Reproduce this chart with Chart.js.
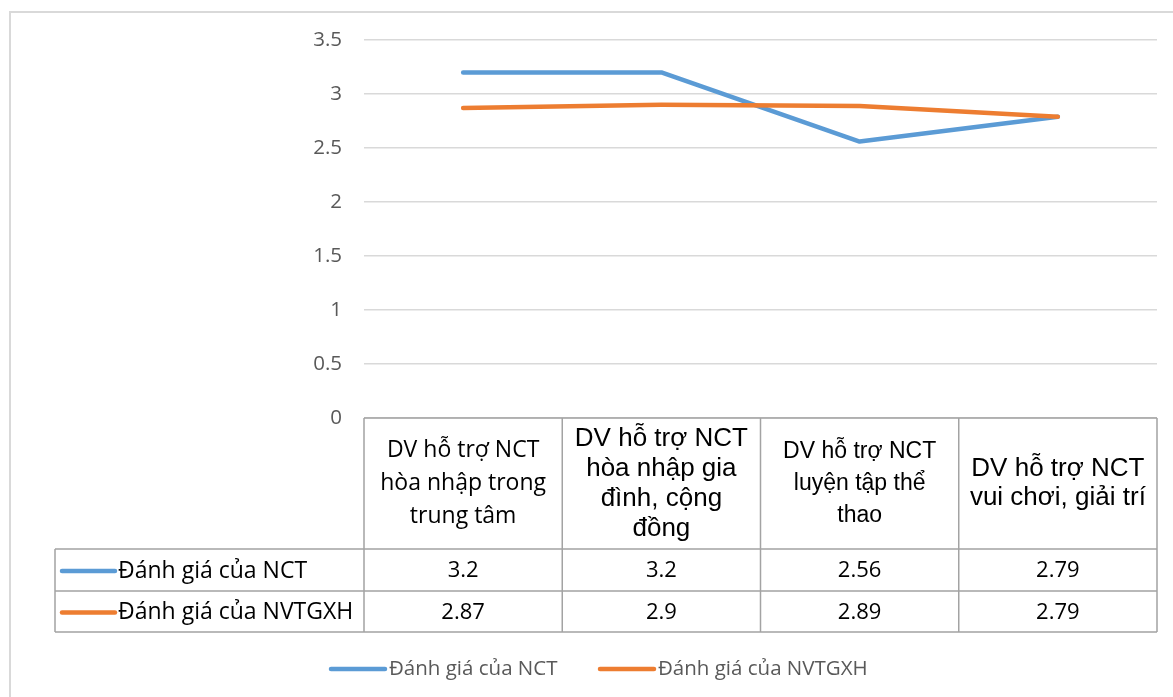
<!DOCTYPE html>
<html>
<head>
<meta charset="utf-8">
<title>Đánh giá dịch vụ hỗ trợ NCT</title>
<script src="https://cdn.jsdelivr.net/npm/chart.js@4.4.0/dist/chart.umd.min.js"></script>
<style>
  html, body { margin: 0; padding: 0; background: #ffffff; }
  #wrap { width: 1173px; height: 697px; }
  canvas { display: block; }
</style>
</head>
<body>
<div id="wrap"><canvas id="chart" width="1173" height="697"></canvas></div>
<script>
// ---- data ----
const categories = [
  ["DV hỗ trợ NCT", "hòa nhập trong", "trung tâm"],
  ["DV hỗ trợ NCT", "hòa nhập gia", "đình, cộng", "đồng"],
  ["DV hỗ trợ NCT", "luyện tập thể", "thao"],
  ["DV hỗ trợ NCT", "vui chơi, giải trí"]
];
const seriesNames = ["Đánh giá của NCT", "Đánh giá của NVTGXH"];
const nctValues = [3.2, 3.2, 2.56, 2.79];
const nvtgxhValues = [2.87, 2.9, 2.89, 2.79];
const yTickValues = [0, 0.5, 1, 1.5, 2, 2.5, 3, 3.5];

// ---- look ----
const BLUE = "#5b9bd5";
const ORANGE = "#ed7d31";
const GRID = "#d9d9d9";
const TABLE_LINE = "#a3a3a3";
const SANS = '"Open Sans", "Noto Sans", sans-serif';
const ARIAL = '"Liberation Sans", Arial, sans-serif';

// header cell text style for each category column
const headerFonts = [
  { family: SANS,  size: 23, lineH: 33 },
  { family: ARIAL, size: 26, lineH: 30 },
  { family: ARIAL, size: 23, lineH: 32 },
  { family: ARIAL, size: 26, lineH: 29 }
];

// page background and the outer chart frame
const framePlugin = {
  id: "frame",
  beforeDraw(chart) {
    const ctx = chart.ctx;
    ctx.save();
    ctx.fillStyle = "#ffffff";
    ctx.fillRect(0, 0, chart.width, chart.height);
    ctx.strokeStyle = GRID;
    ctx.lineWidth = 2;
    ctx.strokeRect(10, 12, chart.width + 40, chart.height + 40);
    ctx.restore();
  }
};

function drawKey(ctx, x1, x2, y, color) {
  ctx.save();
  ctx.strokeStyle = color;
  ctx.lineWidth = 4.5;
  ctx.lineCap = "round";
  ctx.beginPath();
  ctx.moveTo(x1, y);
  ctx.lineTo(x2, y);
  ctx.stroke();
  ctx.restore();
}

// data table under the plot, aligned to the category scale
const dataTablePlugin = {
  id: "dataTable",
  afterDraw(chart) {
    const { ctx, chartArea: a, scales: { x } } = chart;
    const n = chart.data.labels.length;
    const colW = (a.right - a.left) / n;
    const top = a.bottom;
    const headBottom = top + 131;
    const rowBottoms = [top + 173, top + 214];
    const tableLeft = 55;

    const colLeft = i => x.getPixelForValue(i) - colW / 2;
    const colRight = i => x.getPixelForValue(i) + colW / 2;

    ctx.save();
    ctx.strokeStyle = TABLE_LINE;
    ctx.lineWidth = 1.5;

    // header block
    ctx.beginPath();
    ctx.moveTo(colLeft(0), top);
    ctx.lineTo(colRight(n - 1), top);
    for (let i = 0; i <= n; i++) {
      const xx = i < n ? colLeft(i) : colRight(n - 1);
      ctx.moveTo(xx, top);
      ctx.lineTo(xx, rowBottoms[1]);
    }
    // data rows
    ctx.moveTo(tableLeft, headBottom);
    ctx.lineTo(colRight(n - 1), headBottom);
    rowBottoms.forEach(yb => {
      ctx.moveTo(tableLeft, yb);
      ctx.lineTo(colRight(n - 1), yb);
    });
    ctx.moveTo(tableLeft, headBottom);
    ctx.lineTo(tableLeft, rowBottoms[1]);
    ctx.stroke();

    // header texts
    ctx.fillStyle = "#000000";
    ctx.textAlign = "center";
    ctx.textBaseline = "middle";
    const headMid = (top + headBottom) / 2;
    chart.data.labels.forEach((lines, i) => {
      const f = headerFonts[i];
      ctx.font = f.size + "px " + f.family;
      const cx = x.getPixelForValue(i);
      const y0 = headMid - (lines.length - 1) * f.lineH / 2;
      lines.forEach((t, k) => ctx.fillText(t, cx, y0 + k * f.lineH));
    });

    // series rows
    const rowTops = [headBottom, rowBottoms[0]];
    chart.data.datasets.forEach((ds, r) => {
      const cy = (rowTops[r] + rowBottoms[r]) / 2 + 1;
      drawKey(ctx, 62, 115, cy, ds.borderColor);
      ctx.fillStyle = "#000000";
      ctx.textAlign = "left";
      ctx.font = "23px " + SANS;
      ctx.fillText(ds.label, 118, cy);
      ctx.textAlign = "center";
      ctx.font = "22px " + SANS;
      ds.data.forEach((v, i) => ctx.fillText(String(v), x.getPixelForValue(i), cy));
    });
    ctx.restore();
  }
};

// legend along the bottom edge
const bottomLegendPlugin = {
  id: "bottomLegend",
  afterDraw(chart) {
    const ctx = chart.ctx;
    const y = 669;
    const starts = [331, 600];
    ctx.save();
    ctx.font = "20.5px " + SANS;
    ctx.fillStyle = "#595959";
    ctx.textAlign = "left";
    ctx.textBaseline = "middle";
    chart.data.datasets.forEach((ds, i) => {
      drawKey(ctx, starts[i], starts[i] + 54, y, ds.borderColor);
      ctx.fillText(ds.label, starts[i] + 58, y);
    });
    ctx.restore();
  }
};

new Chart(document.getElementById("chart"), {
  type: "line",
  data: {
    labels: categories,
    datasets: [
      { label: seriesNames[0], data: nctValues, borderColor: BLUE, backgroundColor: BLUE, order: 1 },
      { label: seriesNames[1], data: nvtgxhValues, borderColor: ORANGE, backgroundColor: ORANGE, order: 0 }
    ]
  },
  options: {
    responsive: false,
    animation: false,
    layout: { padding: { left: 0, top: 40, right: 16, bottom: 279 } },
    elements: {
      point: { radius: 0, hoverRadius: 0 },
      line: { tension: 0, borderWidth: 4.5, borderCapStyle: "round", borderJoinStyle: "round", fill: false }
    },
    plugins: { legend: { display: false }, tooltip: { enabled: false } },
    scales: {
      x: { type: "category", offset: true, display: false },
      y: {
        min: 0,
        max: 3.5,
        afterFit(axis) { axis.width = 364; },
        afterBuildTicks(axis) { axis.ticks = yTickValues.map(v => ({ value: v })); },
        border: { display: false },
        grid: { color: GRID, lineWidth: 1.5, drawTicks: false },
        ticks: {
          padding: 22,
          color: "#595959",
          font: { family: SANS, size: 20.5 },
          callback: v => String(v)
        }
      }
    }
  },
  plugins: [framePlugin, dataTablePlugin, bottomLegendPlugin]
});
</script>
</body>
</html>
